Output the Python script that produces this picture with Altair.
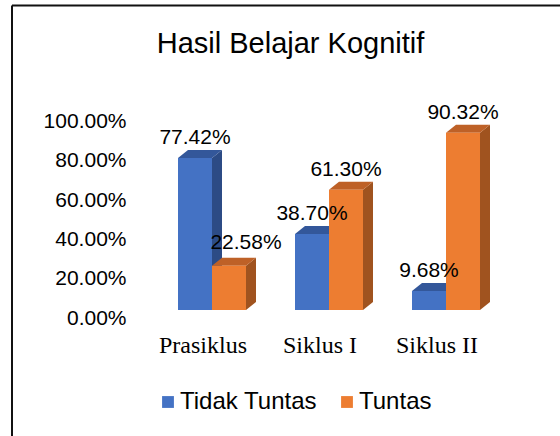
import altair as alt
import pandas as pd

# ---------------- data ----------------
categories = ["Prasiklus", "Siklus I", "Siklus II"]
series = ["Tidak Tuntas", "Tuntas"]
tidak_tuntas = [77.42, 38.70, 9.68]
tuntas = [22.58, 61.30, 90.32]
y_ticks = [0, 20, 40, 60, 80, 100]
title_text = "Hasil Belajar Kognitif"

front_colors = ["#4472C4", "#ED7D31"]
side_colors = ["#2C4B85", "#A0531F"]
top_colors = ["#33579A", "#BE6127"]

# ---------------- geometry helpers (scale units) ----------------
PX_PER_CAT = 117.0
PX_PER_PCT = 1.963
VIEW_W, VIEW_H = 430, 310
BAR_W = 34 / PX_PER_CAT
DEPTH = 10 / PX_PER_CAT
RISE = 8 / PX_PER_PCT
X0 = -82 / PX_PER_CAT
X1 = X0 + VIEW_W / PX_PER_CAT
YMAX = VIEW_H / PX_PER_PCT

front_rows, face_rows = [], []
for ci, cat in enumerate(categories):
    for si, (s, vals) in enumerate(zip(series, [tidak_tuntas, tuntas])):
        v = vals[ci]
        xl = ci - BAR_W + si * BAR_W
        xr = xl + BAR_W
        front_rows.append(dict(cat=cat, ci=ci, series=s, value=v, x0=xl, x1=xr,
                               xc=(xl + xr) / 2, label=f"{v:.2f}%"))
        key = f"{si}_{ci}"
        top_pts = [(xl, v, v), (xl + DEPTH, v + RISE, v), (xr, v + RISE, v),
                   (xr + DEPTH, v + RISE, v + RISE)]
        for k, (x, y, y2) in enumerate(top_pts):
            face_rows.append(dict(face=key + "_top", part="top", sidx=si, k=k,
                                  fx=x, fy=y, fy2=y2))
        side_pts = [(xr, v, 0), (xr + DEPTH, v + RISE, RISE)]
        for k, (x, y, y2) in enumerate(side_pts):
            face_rows.append(dict(face=key + "_side", part="side", sidx=si, k=k,
                                  fx=x, fy=y, fy2=y2))

front = pd.DataFrame(front_rows)
faces = pd.DataFrame(face_rows)
cats = pd.DataFrame({"cat": categories, "ci": list(range(len(categories)))})

FONT = "Liberation Sans"
xscale = alt.Scale(domain=[X0, X1], nice=False, zero=False)
yscale = alt.Scale(domain=[0, YMAX], nice=False, zero=True)
yaxis = alt.Axis(values=y_ticks, grid=False, domain=False, ticks=False, title=None,
                 labelExpr="format(datum.value, '.2f') + '%'",
                 labelFont=FONT, labelFontSize=21, labelColor="#000000",
                 labelPadding=4, labelOffset=8)


def face_layer(si, part, color):
    return alt.Chart(faces).transform_filter(
        (alt.datum.sidx == si) & (alt.datum.part == part)
    ).mark_area(color=color, opacity=1, interpolate="linear").encode(
        x=alt.X("fx:Q", scale=xscale, axis=None),
        y=alt.Y("fy:Q", scale=yscale, axis=yaxis, stack=None),
        y2="fy2:Q",
        detail="face:N",
    )


bars = alt.Chart(front).mark_bar().encode(
    x=alt.X("x0:Q", scale=xscale, axis=None),
    x2="x1:Q",
    y=alt.Y("value:Q", scale=yscale, axis=yaxis),
    y2=alt.datum(0),
    color=alt.Color("series:N",
                    scale=alt.Scale(domain=series, range=front_colors),
                    legend=alt.Legend(title=None, orient="none", direction="horizontal",
                                      legendX=26, legendY=390, symbolType="square",
                                      symbolSize=140, symbolStrokeWidth=0,
                                      labelFont=FONT, labelFontSize=24,
                                      labelColor="#000000", labelOffset=0,
                                      columnPadding=18, padding=0)),
)

labels_main = alt.Chart(front).transform_filter(
    ~((alt.datum.cat == "Prasiklus") & (alt.datum.series == "Tuntas"))
).mark_text(font=FONT, fontSize=21, color="#000000", baseline="alphabetic",
            align="center", dy=-14).encode(
    x=alt.X("xc:Q", scale=xscale, axis=None),
    y=alt.Y("value:Q", scale=yscale, axis=yaxis),
    text="label:N",
)
labels_shift = alt.Chart(front).transform_filter(
    (alt.datum.cat == "Prasiklus") & (alt.datum.series == "Tuntas")
).mark_text(font=FONT, fontSize=21, color="#000000", baseline="alphabetic",
            align="center", dx=17, dy=-17).encode(
    x=alt.X("xc:Q", scale=xscale, axis=None),
    y=alt.Y("value:Q", scale=yscale, axis=yaxis),
    text="label:N",
)

cat_labels = alt.Chart(cats).mark_text(
    font="Liberation Serif", fontSize=24, color="#000000", baseline="alphabetic",
    align="center", dx=-9).encode(
    x=alt.X("ci:Q", scale=xscale, axis=None),
    y=alt.value(353),
    text="cat:N",
)

title = alt.Chart(pd.DataFrame({"t": [title_text]})).mark_text(
    font=FONT, fontSize=29, color="#000000", baseline="alphabetic", align="center"
).encode(x=alt.value(160.5), y=alt.value(53), text="t:N")

one = pd.DataFrame({"a": [0]})
border_top = alt.Chart(one).mark_rule(color="#111111", strokeWidth=2).encode(
    x=alt.value(-118), x2=alt.value(440), y=alt.value(5.5))
border_left = alt.Chart(one).mark_rule(color="#111111", strokeWidth=2).encode(
    x=alt.value(-118), y=alt.value(5.5), y2=alt.value(440))

chart = alt.layer(
    face_layer(0, "side", side_colors[0]), face_layer(0, "top", top_colors[0]),
    face_layer(1, "side", side_colors[1]), face_layer(1, "top", top_colors[1]),
    bars, labels_main, labels_shift, cat_labels, title, border_top, border_left,
).properties(
    width=VIEW_W, height=VIEW_H,
    autosize=alt.AutoSizeParams(type="none"),
    padding={"left": 130, "top": 0, "right": 0, "bottom": 126},
    background="#ffffff",
).configure_view(stroke=None)

chart.save("out.html", embed_options={"renderer": "svg", "actions": False})
